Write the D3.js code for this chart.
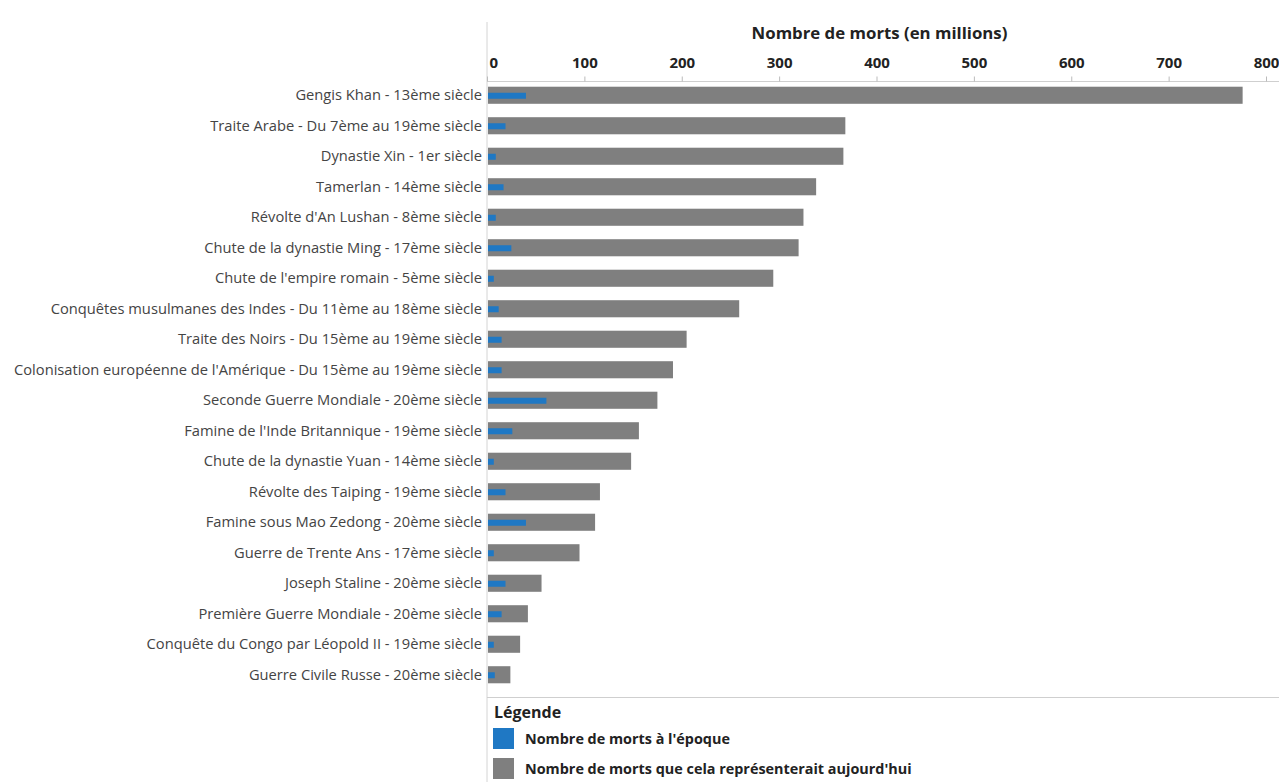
<!DOCTYPE html>
<html><head><meta charset="utf-8">
<script src="https://cdn.jsdelivr.net/npm/d3@7/dist/d3.min.js"></script>
<style>
body{margin:0;background:#fff;}
text{font-family:"Open Sans","Noto Sans",sans-serif;}
</style></head>
<body><svg id="c" width="1279" height="782"></svg>
<script>
const categories = [
 "Gengis Khan - 13ème siècle",
 "Traite Arabe - Du 7ème au 19ème siècle",
 "Dynastie Xin - 1er siècle",
 "Tamerlan - 14ème siècle",
 "Révolte d'An Lushan - 8ème siècle",
 "Chute de la dynastie Ming - 17ème siècle",
 "Chute de l'empire romain - 5ème siècle",
 "Conquêtes musulmanes des Indes - Du 11ème au 18ème siècle",
 "Traite des Noirs - Du 15ème au 19ème siècle",
 "Colonisation européenne de l'Amérique - Du 15ème au 19ème siècle",
 "Seconde Guerre Mondiale - 20ème siècle",
 "Famine de l'Inde Britannique - 19ème siècle",
 "Chute de la dynastie Yuan - 14ème siècle",
 "Révolte des Taiping - 19ème siècle",
 "Famine sous Mao Zedong - 20ème siècle",
 "Guerre de Trente Ans - 17ème siècle",
 "Joseph Staline - 20ème siècle",
 "Première Guerre Mondiale - 20ème siècle",
 "Conquête du Congo par Léopold II - 19ème siècle",
 "Guerre Civile Russe - 20ème siècle"
];
const deathsThen = [40, 19, 9, 17, 9, 25, 7, 12, 15, 15, 61, 26, 7, 19, 40, 7, 19, 15, 7, 8];
const deathsToday = [776, 368, 366, 338, 325, 320, 294, 259, 205, 191, 175, 156, 148, 116, 111, 95, 56, 42, 34, 24];
const xTicks = [0, 100, 200, 300, 400, 500, 600, 700, 800];
const axisTitle = "Nombre de morts (en millions)";
const legendTitle = "Légende";
const legendItems = ["Nombre de morts à l'époque", "Nombre de morts que cela représenterait aujourd'hui"];
const colors = ["#1f78c4", "#7f7f7f"];

const svg = d3.select("#c");
const x = d3.scaleLinear().domain([0, 800]).range([487, 1266]);
const y = d3.scaleBand().domain(categories).range([80, 690]).paddingInner(0.44).paddingOuter(0.22);

// frame lines
svg.append("line").attr("x1",487).attr("x2",487).attr("y1",22).attr("y2",782).attr("stroke","#d4d4d4").attr("stroke-width",1);
svg.append("line").attr("x1",487).attr("x2",1279).attr("y1",81.5).attr("y2",81.5).attr("stroke","#cfcfcf");
svg.append("line").attr("x1",487).attr("x2",1279).attr("y1",697.5).attr("y2",697.5).attr("stroke","#cfcfcf");

// top axis
const axis = d3.axisTop(x).tickValues(xTicks).tickSize(5).tickPadding(9);
const ag = svg.append("g").attr("transform","translate(0,81.5)").call(axis);
ag.select(".domain").remove();
ag.selectAll(".tick line").attr("stroke","#bbb");
ag.selectAll(".tick text").attr("font-size",15).attr("font-weight","bold").attr("fill","#222")
  .attr("font-family","'Open Sans',sans-serif");
ag.selectAll(".tick text").filter(d=>d===0).attr("text-anchor","start").attr("x",2);
svg.append("text").attr("x",x(400)+3).attr("y",39).attr("text-anchor","middle")
  .attr("font-size",16.8).attr("font-weight","bold").attr("fill","#222").text(axisTitle);

// category labels
svg.append("g").selectAll("text").data(categories).join("text")
  .attr("x",482).attr("y",d=>y(d)+y.bandwidth()/2).attr("dy","0.35em")
  .attr("text-anchor","end").attr("font-size",14.7).attr("fill","#444").text(d=>d);

// gray bars
svg.append("g").selectAll("rect").data(categories).join("rect")
  .attr("x",x(0)+1).attr("y",d=>y(d)).attr("height",y.bandwidth())
  .attr("width",(d,i)=>x(deathsToday[i])-x(0)-1).attr("fill",colors[1]);
// blue bars
const bh = 6;
svg.append("g").selectAll("rect").data(categories).join("rect")
  .attr("x",x(0)+1).attr("y",d=>y(d)+y.bandwidth()/2-bh/2+0.5).attr("height",bh)
  .attr("width",(d,i)=>x(deathsThen[i])-x(0)-1).attr("fill",colors[0]);

// legend
svg.append("text").attr("x",494).attr("y",718).attr("font-size",16).attr("font-weight","bold").attr("fill","#222").text(legendTitle);
const lg = svg.append("g").selectAll("g").data(legendItems).join("g")
  .attr("transform",(d,i)=>`translate(493,${728+i*30})`);
lg.append("rect").attr("width",21).attr("height",21).attr("fill",(d,i)=>colors[i]);
lg.append("text").attr("x",32).attr("y",11).attr("dy","0.35em").attr("font-size",14.4).attr("font-weight","bold").attr("fill","#222").text(d=>d);
</script></body></html>
